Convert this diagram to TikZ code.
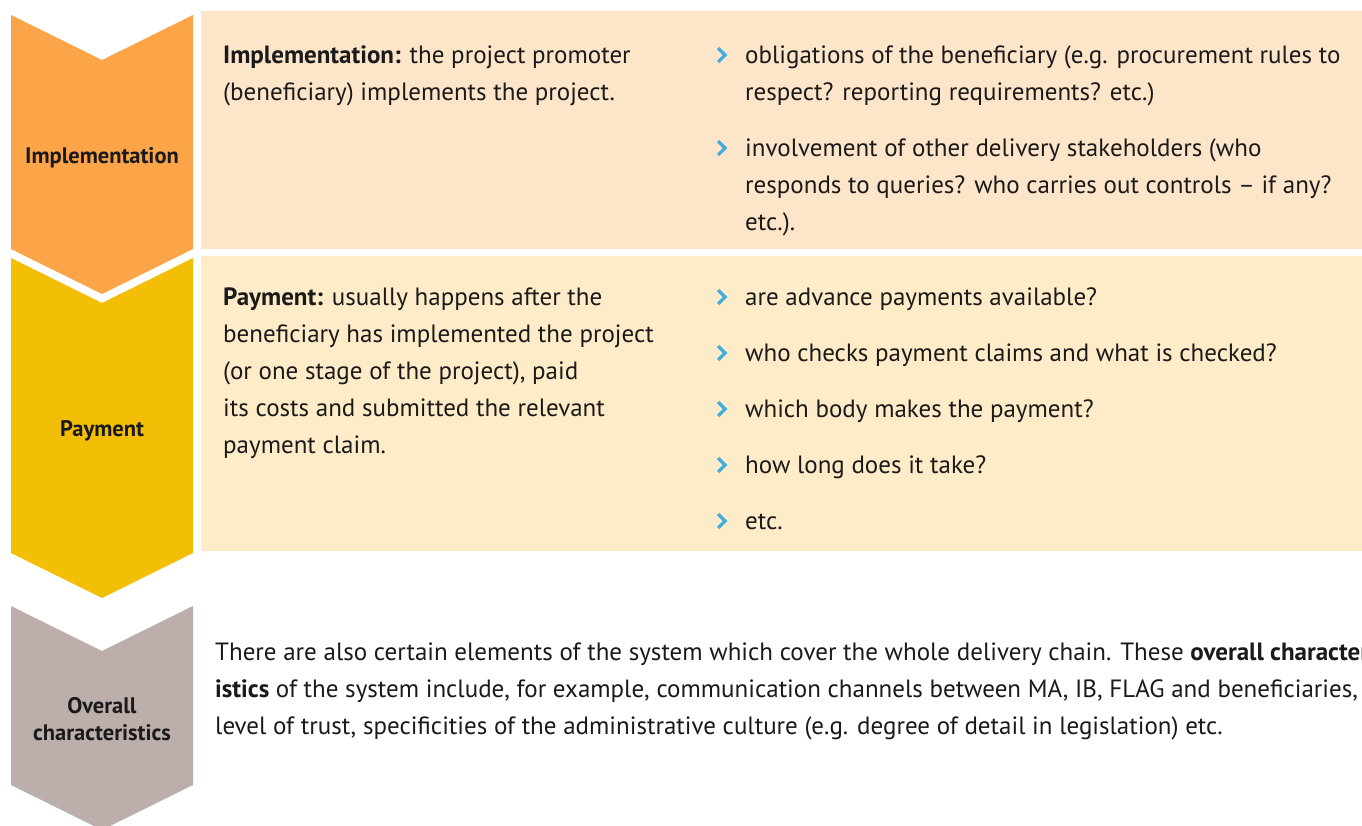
\documentclass[tikz,border=0pt]{standalone}
\usepackage{fontspec}
\setmainfont{PT Sans}
\definecolor{orangeC}{HTML}{FBA548}
\definecolor{goldC}{HTML}{F2BE06}
\definecolor{greyC}{HTML}{BCAEAB}
\definecolor{panelA}{HTML}{FDE5CA}
\definecolor{panelB}{HTML}{FEEBC8}
\definecolor{ink}{HTML}{1A1A1A}
\definecolor{bulletC}{HTML}{42AEDD}
\tikzset{
  txt/.style={anchor=base west, inner sep=0pt, text=ink, font=\fontsize{25}{30}\selectfont},
  lab/.style={anchor=base, inner sep=0pt, text=ink, font=\bfseries\fontsize{22.5}{27}\selectfont},
  bul/.style={draw=bulletC, line width=3.2pt, line cap=butt, line join=miter},
}
\newcommand{\bulletmark}[1]{\draw[bul] ([shift={(-27,-15)}]#1.base west) -- ([shift={(-20,-8)}]#1.base west) -- ([shift={(-27,-1)}]#1.base west);}
\begin{document}
\begin{tikzpicture}[x=1pt,y=-1pt]
\useasboundingbox (0,0) rectangle (1362,825);
\clip (0,0) rectangle (1362,825);
\fill[white] (0,0) rectangle (1362,825);
% chevrons
\fill[orangeC] (11,15) -- (102,60) -- (193,15) -- (193,249) -- (102,294) -- (11,249) -- cycle;
\fill[goldC] (11,258) -- (102,303) -- (193,258) -- (193,553) -- (102,598) -- (11,553) -- cycle;
\fill[greyC] (11,606) -- (102,651) -- (193,606) -- (193,785) -- (102,830) -- (11,785) -- cycle;
% panels
\fill[panelA] (201,11) rectangle (1362,249);
\fill[panelB] (201,256) rectangle (1362,551);
% side labels
\node[lab] (labImpl) at (102,163) {Implementation};
\node[lab] (labPay) at (102,436) {Payment};
\node[lab] (labOv1) at (102,713) {Overall};
\node[lab] (labOv2) at (102,740) {characteristics};
% implementation panel
\node[txt] (i1) at (223,63) {\textbf{Implementation:} the project promoter};
\node[txt] (i2) at (223,100) {(beneficiary) implements the project.};
\node[txt] (ia1) at (745,63) {obligations of the beneficiary (e.g. procurement rules to};
\node[txt] (ia2) at (745,100) {respect? reporting requirements? etc.)};
\node[txt] (ib1) at (745,156) {involvement of other delivery stakeholders (who};
\node[txt] (ib2) at (745,193) {responds to queries? who carries out controls -- if any?};
\node[txt] (ib3) at (745,230) {etc.).};
\bulletmark{ia1}
\bulletmark{ib1}
% payment panel
\node[txt] (p1) at (223,305) {\textbf{Payment:} usually happens after the};
\node[txt] (p2) at (223,342) {beneficiary has implemented the project};
\node[txt] (p3) at (223,379) {(or one stage of the project), paid};
\node[txt] (p4) at (223,416) {its costs and submitted the relevant};
\node[txt] (p5) at (223,453) {payment claim.};
\node[txt] (pa) at (745,305) {are advance payments available?};
\node[txt] (pb) at (745,361) {who checks payment claims and what is checked?};
\node[txt] (pc) at (745,417) {which body makes the payment?};
\node[txt] (pd) at (745,473) {how long does it take?};
\node[txt] (pe) at (745,529) {etc.};
\bulletmark{pa}
\bulletmark{pb}
\bulletmark{pc}
\bulletmark{pd}
\bulletmark{pe}
% overall text
\node[txt] (o1) at (215,660) {There are also certain elements of the system which cover the whole delivery chain. These \textbf{overall character-}};
\node[txt] (o2) at (215,697) {\textbf{istics} of the system include, for example, communication channels between MA, IB, FLAG and beneficiaries,};
\node[txt] (o3) at (215,734) {level of trust, specificities of the administrative culture (e.g. degree of detail in legislation) etc.};
\end{tikzpicture}
\end{document}
